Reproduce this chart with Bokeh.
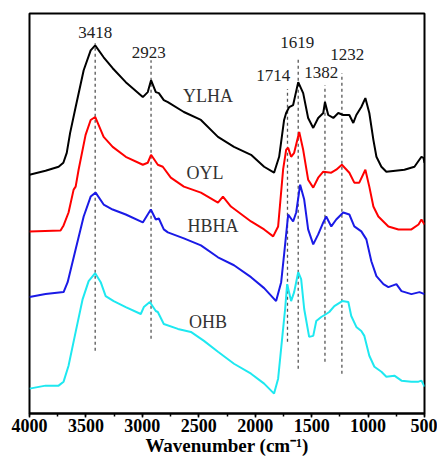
from bokeh.plotting import figure
from bokeh.models import Range1d, SingleIntervalTicker
from bokeh.core.properties import value
from bokeh.embed import file_html
from bokeh.resources import INLINE

# FTIR spectra (intensity in arbitrary units, curves offset vertically)
ylha_wn = [4000, 3858, 3742, 3700, 3670, 3640, 3591, 3520, 3458, 3418, 3343, 3263, 3147, 2996, 2952, 2923,
           2881, 2854, 2810, 2774, 2632, 2481, 2330, 2188, 2037, 1921, 1833, 1788, 1744, 1726, 1699,
           1664, 1619, 1575, 1531, 1486, 1442, 1397, 1382, 1353, 1308, 1264, 1220, 1166, 1131, 1104,
           1060, 1024, 989, 953, 926, 882, 838, 678, 589, 527, 509, 500]
ylha_y = [240, 244, 248, 252, 262, 282, 308, 345, 365, 370, 358, 347, 333, 318, 323, 335,
          323, 322, 315, 313, 303, 295, 278, 268, 260, 248, 242, 258, 295, 302, 308,
          310, 333, 322, 297, 287, 297, 302, 313, 300, 297, 302, 300, 300, 292, 300,
          308, 317, 302, 275, 258, 248, 243, 245, 248, 258, 257, 252]

oyl_wn = [4000, 3725, 3698, 3654, 3609, 3591, 3565, 3503, 3458, 3418, 3343, 3263, 3147, 2996, 2952,
          2923, 2863, 2819, 2748, 2632, 2481, 2330, 2286, 2215, 2037, 1921, 1841, 1797, 1753, 1726,
          1708, 1682, 1655, 1610, 1575, 1531, 1486, 1442, 1397, 1326, 1282, 1232, 1166, 1122, 1078,
          1024, 989, 953, 909, 820, 731, 616, 553, 527, 500]
oyl_y = [183, 184, 189, 202, 225, 228, 245, 280, 295, 298, 278, 268, 258, 250, 252,
         260, 250, 248, 237, 228, 222, 212, 218, 208, 193, 185, 178, 188, 245, 265,
         267, 258, 262, 283, 265, 235, 227, 237, 243, 242, 245, 250, 242, 232, 232,
         245, 228, 208, 198, 188, 185, 185, 190, 195, 190]

hbha_wn = [4000, 3858, 3698, 3662, 3591, 3520, 3458, 3414, 3343, 3263, 3147, 2996, 2925, 2881, 2854,
           2810, 2774, 2632, 2481, 2330, 2188, 2037, 1921, 1815, 1770, 1744, 1708, 1664, 1637, 1602,
           1566, 1531, 1486, 1442, 1397, 1371, 1326, 1282, 1220, 1166, 1122, 1060, 1015, 971, 926,
           864, 820, 749, 704, 616, 544, 500]
hbha_y = [117, 120, 122, 132, 165, 198, 218, 222, 210, 205, 200, 192, 205, 195, 196,
          185, 182, 176, 169, 157, 149, 137, 126, 113, 132, 160, 200, 193, 202, 230,
          215, 185, 170, 180, 192, 198, 188, 195, 202, 200, 188, 183, 175, 153, 138,
          130, 127, 130, 123, 120, 122, 120]

ohb_wn = [4000, 3858, 3742, 3698, 3654, 3591, 3529, 3476, 3418, 3369, 3325, 3254, 3147, 3014, 2987,
          2934, 2881, 2863, 2810, 2685, 2570, 2454, 2330, 2188, 2037, 1921, 1833, 1797, 1753, 1735,
          1717, 1682, 1655, 1619, 1593, 1566, 1522, 1486, 1459, 1415, 1371, 1344, 1299, 1229, 1175,
          1149, 1104, 1060, 1033, 989, 944, 882, 838, 767, 704, 616, 553, 527, 500]
ohb_y = [25, 28, 28, 32, 48, 82, 115, 133, 141, 132, 118, 113, 107, 100, 107,
         112, 103, 102, 90, 85, 82, 73, 62, 50, 40, 30, 20, 35, 85, 105,
         130, 113, 122, 142, 135, 105, 77, 78, 93, 97, 100, 102, 108, 113, 112,
         98, 87, 83, 78, 58, 47, 42, 37, 38, 33, 32, 32, 33, 27]

# marked bands
peak_wn = [3418, 2923, 1714, 1619, 1382, 1232]
peak_top = [372, 355, 326, 358, 330, 342]
peak_bottom = [63, 75, 72, 45, 52, 40]
peak_label = ["3418", "2923", "1714", "1619", "1382", "1232"]
peak_label_wn = [3418, 2943, 1841, 1628, 1415, 1184]
peak_label_y = [383, 363, 340, 373, 343, 361]

series_names = ["YLHA", "OYL", "HBHA", "OHB"]
series_label_wn = [2419, 2446, 2374, 2419]
series_label_y = [319, 242, 188, 92]
series_colors = ["#000000", "#ff0000", "#1a1ae6", "#1ee8f0"]

FONT = "'Liberation Serif', 'Times New Roman', serif"
serif = value(FONT)

p = figure(width=437, height=458, output_backend="svg", toolbar_location=None,
           x_range=Range1d(4000, 500), y_range=Range1d(0, 402),
           min_border_left=29, min_border_right=13, min_border_top=13, min_border_bottom=43)
p.background_fill_color = "white"
p.border_fill_color = "white"
p.outline_line_color = "black"
p.outline_line_width = 2
p.grid.visible = False
p.yaxis.visible = False

ax = p.xaxis[0]
ax.ticker = SingleIntervalTicker(interval=500, num_minor_ticks=2)
ax.axis_line_color = "black"
ax.axis_line_width = 2
ax.major_tick_in = 0
ax.major_tick_out = 4
ax.minor_tick_in = 0
ax.minor_tick_out = 3
ax.major_tick_line_width = 1.5
ax.minor_tick_line_width = 1.5
ax.major_label_text_font = FONT
ax.major_label_text_font_style = "bold"
ax.major_label_text_font_size = "18px"
ax.major_label_text_color = "black"
ax.major_label_standoff = 1
ax.axis_label = "Wavenumber (cm\u207b\u00b9)"
ax.axis_label_text_font = FONT
ax.axis_label_text_font_style = "bold"
ax.axis_label_text_font_size = "19px"
ax.axis_label_text_color = "black"
ax.axis_label_standoff = 0

p.segment(x0=peak_wn, x1=peak_wn, y0=peak_bottom, y1=peak_top,
          line_color="#555555", line_width=1.3, line_dash="3 3")

for wn, yy, c in zip([ylha_wn, oyl_wn, hbha_wn, ohb_wn], [ylha_y, oyl_y, hbha_y, ohb_y], series_colors):
    p.line(wn, yy, line_color=c, line_width=2)

p.text(x=peak_label_wn, y=peak_label_y, text=peak_label, text_align="center",
       text_baseline="middle", text_font=serif, text_font_size="17px", text_color="#222222")
p.text(x=series_label_wn, y=series_label_y, text=series_names, text_align="center",
       text_baseline="middle", text_font=serif, text_font_size="18px", text_color="#333333")

open("out.html", "w").write(file_html(p, INLINE))
